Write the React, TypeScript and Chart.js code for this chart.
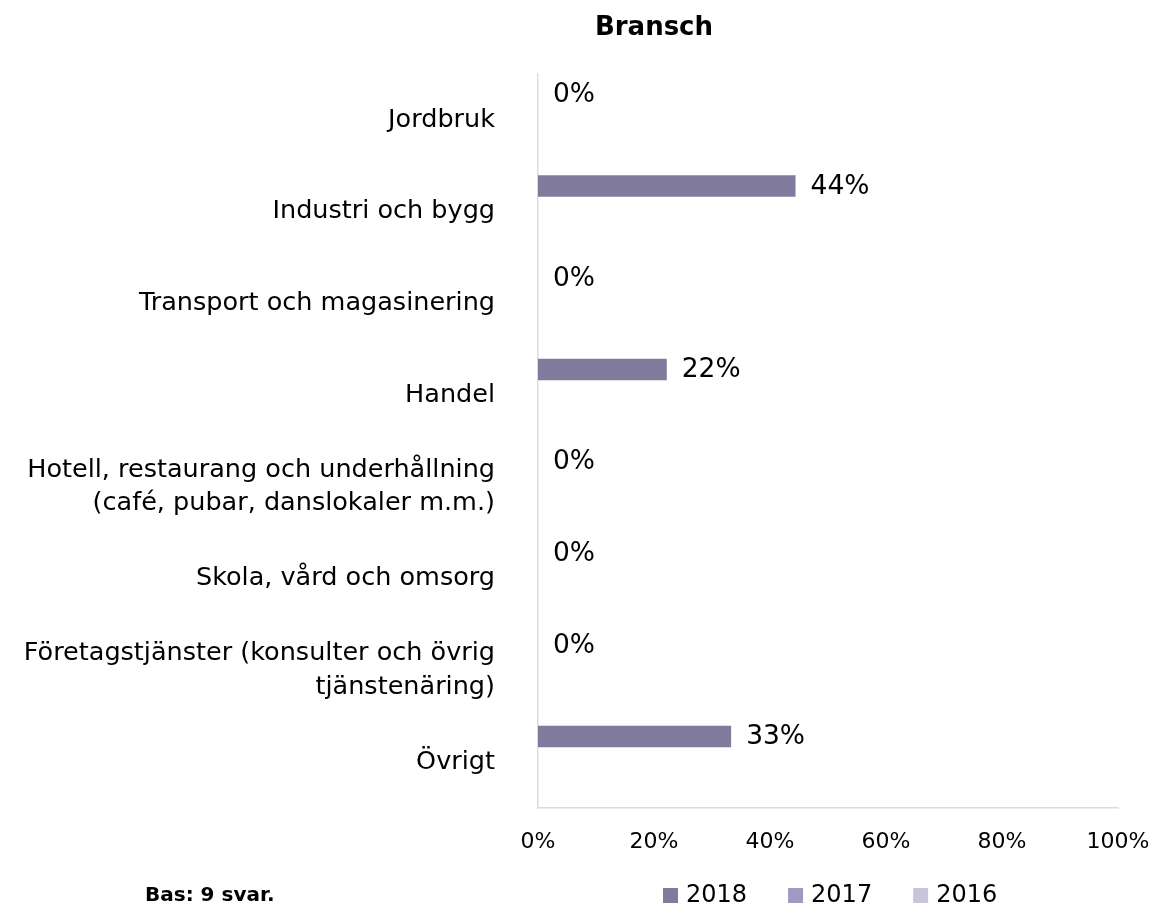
import React, { useEffect, useRef } from "react";
import { Chart, registerables } from "chart.js";

Chart.register(...registerables);

const categories: (string | string[])[] = [
  "Jordbruk",
  "Industri och bygg",
  "Transport och magasinering",
  "Handel",
  ["Hotell, restaurang och underhållning", "(café, pubar, danslokaler m.m.)"],
  "Skola, vård och omsorg",
  ["Företagstjänster (konsulter och övrig", "tjänstenäring)"],
  "Övrigt",
];

const values2018: (number | null)[] = [0, 44.4, 0, 22.2, 0, 0, 0, 33.3];
const values2017: (number | null)[] = [null, null, null, null, null, null, null, null];
const values2016: (number | null)[] = [null, null, null, null, null, null, null, null];

const seriesNames = ["2018", "2017", "2016"];
const seriesColors = ["#807A9C", "#A199C2", "#C9C4DC"];

const xTicks = [0, 20, 40, 60, 80, 100];

const titleText = "Bransch";
const footnote = "Bas: 9 svar.";

const FONT = "'DejaVu Sans', sans-serif";

const overlayPlugin = {
  id: "overlay",
  afterDatasetsDraw(chart: any) {
    const ctx = chart.ctx;
    ctx.save();
    const meta = chart.getDatasetMeta(0);
    ctx.font = `26.5px ${FONT}`;
    ctx.fillStyle = "#000";
    ctx.textAlign = "left";
    ctx.textBaseline = "middle";
    meta.data.forEach((bar: any, i: number) => {
      const v = chart.data.datasets[0].data[i];
      if (v === null || v === undefined) return;
      ctx.fillText(`${Math.round(v)}%`, bar.x + 15, bar.y + 1);
    });
    ctx.font = `bold 26px ${FONT}`;
    ctx.textAlign = "center";
    ctx.fillText(titleText, 654, 28);
    ctx.font = `bold 20px ${FONT}`;
    ctx.textAlign = "left";
    ctx.fillText(footnote, 145, 896);
    ctx.font = `24px ${FONT}`;
    let x = 663;
    chart.data.datasets.forEach((ds: any) => {
      ctx.fillStyle = ds.backgroundColor;
      ctx.fillRect(x, 888, 15, 15);
      ctx.fillStyle = "#000";
      ctx.fillText(ds.label, x + 23, 896);
      x += 23 + ctx.measureText(ds.label).width + 41;
    });
    ctx.restore();
  },
};

export default function App() {
  const ref = useRef<HTMLCanvasElement | null>(null);
  useEffect(() => {
    if (!ref.current) return;
    const chart = new Chart(ref.current, {
      type: "bar",
      data: {
        labels: categories,
        datasets: [
          { label: seriesNames[0], data: values2018, backgroundColor: seriesColors[0] },
          { label: seriesNames[1], data: values2017, backgroundColor: seriesColors[1] },
          { label: seriesNames[2], data: values2016, backgroundColor: seriesColors[2] },
        ],
      },
      options: {
        indexAxis: "y",
        responsive: false,
        animation: false,
        datasets: {
          bar: { categoryPercentage: 0.837, barPercentage: 0.84 },
        },
        layout: { padding: { top: 74, right: 32, bottom: 0, left: 0 } },
        plugins: {
          legend: { display: false },
          title: { display: false },
          tooltip: { enabled: false },
        },
        scales: {
          x: {
            min: 0,
            max: 100,
            afterBuildTicks: (s: any) => {
              s.ticks = xTicks.map((v) => ({ value: v }));
            },
            afterFit: (s: any) => {
              s.height = 101;
              s.paddingLeft = 0;
              s.paddingRight = 0;
            },
            ticks: {
              callback: (v: any) => `${v}%`,
              font: { family: FONT, size: 22 },
              color: "#000",
              padding: 21,
              maxRotation: 0,
            },
            grid: { display: false, drawTicks: false },
            border: { color: "#D9DBE1", width: 1.5 },
          },
          y: {
            afterFit: (s: any) => {
              s.width = 538;
              s.paddingTop = 0;
              s.paddingBottom = 0;
            },
            ticks: {
              font: { family: FONT, size: 25.5, lineHeight: 1.3 },
              color: "#000",
              padding: 43,
              autoSkip: false,
            },
            grid: { display: false, drawTicks: false },
            border: { color: "#D9DBE1", width: 1.5 },
          },
        },
      },
      plugins: [overlayPlugin],
    });
    return () => chart.destroy();
  }, []);
  return (
    <div style={{ position: "absolute", left: 0, top: 0, width: 1150, height: 909, background: "#fff" }}>
      <canvas ref={ref} width={1150} height={909} style={{ width: 1150, height: 909, display: "block" }} />
    </div>
  );
}
